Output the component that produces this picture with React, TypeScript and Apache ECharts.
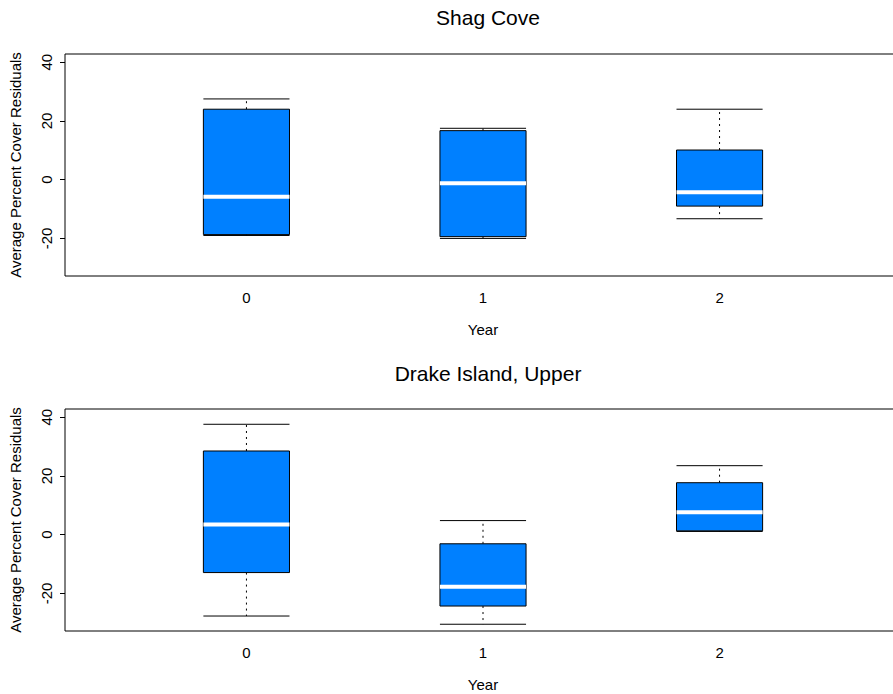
import React, { useEffect, useRef } from "react";
import * as echarts from "echarts";

const years = [0, 1, 2];
const yearLabels = ["0", "1", "2"];
const yTicks = [-20, 0, 20, 40];

const panelTitles = ["Shag Cove", "Drake Island, Upper"];

const shagLow = [-19.0, -20.0, -13.3];
const shagQ1 = [-18.7, -19.4, -9.0];
const shagMedian = [-5.8, -1.2, -4.3];
const shagQ3 = [24.0, 16.7, 10.1];
const shagHigh = [27.5, 17.5, 24.0];

const drakeLow = [-27.7, -30.5, 1.1];
const drakeQ1 = [-12.9, -24.3, 1.3];
const drakeMedian = [3.5, -17.7, 7.6];
const drakeQ3 = [28.5, -3.1, 17.7];
const drakeHigh = [37.6, 4.8, 23.5];

const FONT = "Liberation Sans, Arial, Helvetica, sans-serif";
const BOX_HALF = 0.182;

function buildRows(low: number[], q1: number[], med: number[], q3: number[], high: number[]) {
  return years.map((y, i) => [y, low[i], q1[i], med[i], q3[i], high[i]]);
}

function renderBox(params: any, api: any) {
  const x = api.value(0);
  const low = api.coord([x, api.value(1)]);
  const q1 = api.coord([x, api.value(2)]);
  const med = api.coord([x, api.value(3)]);
  const q3 = api.coord([x, api.value(4)]);
  const high = api.coord([x, api.value(5)]);
  const hw = api.size([BOX_HALF, 0])[0];
  const cx = low[0];
  const dash = { stroke: "#000", lineWidth: 1, lineDash: [2, 4] };
  const solid = { stroke: "#000", lineWidth: 1 };
  return {
    type: "group",
    children: [
      { type: "line", shape: { x1: cx, y1: q3[1], x2: cx, y2: high[1] }, style: dash },
      { type: "line", shape: { x1: cx, y1: q1[1], x2: cx, y2: low[1] }, style: dash },
      {
        type: "rect",
        shape: { x: cx - hw, y: q3[1], width: 2 * hw, height: q1[1] - q3[1] },
        style: { fill: "#0080FF", stroke: "#000", lineWidth: 1 },
      },
      { type: "line", shape: { x1: cx - hw, y1: med[1], x2: cx + hw, y2: med[1] }, style: { stroke: "#fff", lineWidth: 4 } },
      { type: "line", shape: { x1: cx - hw, y1: high[1], x2: cx + hw, y2: high[1] }, style: solid },
      { type: "line", shape: { x1: cx - hw, y1: low[1], x2: cx + hw, y2: low[1] }, style: solid },
    ],
  };
}

export default function App() {
  const ref = useRef<HTMLDivElement>(null);
  useEffect(() => {
    if (!ref.current) return;
    const chart = echarts.init(ref.current, null, { renderer: "svg" });
    const gridLeft = 65;
    const gridWidth = 836;
    const centerX = gridLeft + gridWidth / 2;
    const grids = [
      { left: gridLeft, top: 54, width: gridWidth, height: 222 },
      { left: gridLeft, top: 409, width: gridWidth, height: 222 },
    ];
    const xAxes = grids.map((_, i) => ({
      type: "value",
      gridIndex: i,
      min: -0.767,
      max: 2.767,
      name: "Year",
      nameLocation: "middle",
      nameGap: 46,
      nameTextStyle: { fontFamily: FONT, fontSize: 15, color: "#000" },
      axisLine: { show: false, onZero: false },
      axisTick: { show: false },
      splitLine: { show: false },
      axisLabel: {
        customValues: years,
        formatter: (v: number) => yearLabels[years.indexOf(Math.round(v))] ?? "",
        fontFamily: FONT,
        fontSize: 15,
        color: "#000",
        margin: 14,
      },
    }));
    const yAxes = grids.map((_, i) => ({
      type: "value",
      gridIndex: i,
      min: -32.8,
      max: 42.8,
      name: "Average Percent Cover Residuals",
      nameLocation: "middle",
      nameRotate: 90,
      nameGap: 42,
      nameTextStyle: { fontFamily: FONT, fontSize: 15, color: "#000" },
      axisLine: { show: false, onZero: false },
      splitLine: { show: false },
      axisTick: { show: true, customValues: yTicks, length: 5, lineStyle: { color: "#000" } },
      axisLabel: {
        customValues: yTicks,
        rotate: 90,
        fontFamily: FONT,
        fontSize: 15,
        color: "#000",
        margin: 11,
      },
    }));
    chart.setOption({
      animation: false,
      backgroundColor: "#fff",
      title: panelTitles.map((t, i) => ({
        text: t,
        left: centerX,
        textAlign: "center",
        top: i === 0 ? 2 : 358,
        textStyle: { fontFamily: FONT, fontSize: 21, fontWeight: "normal", color: "#000" },
      })),
      grid: grids.map((g) => ({
        ...g,
        show: true,
        borderColor: "#000",
        borderWidth: 1,
        backgroundColor: "transparent",
        outerBoundsMode: "none",
        containLabel: false,
      })),
      xAxis: xAxes,
      yAxis: yAxes,
      series: [
        {
          type: "custom",
          xAxisIndex: 0,
          yAxisIndex: 0,
          renderItem: renderBox,
          encode: { x: 0, y: [1, 2, 3, 4, 5] },
          data: buildRows(shagLow, shagQ1, shagMedian, shagQ3, shagHigh),
        },
        {
          type: "custom",
          xAxisIndex: 1,
          yAxisIndex: 1,
          renderItem: renderBox,
          encode: { x: 0, y: [1, 2, 3, 4, 5] },
          data: buildRows(drakeLow, drakeQ1, drakeMedian, drakeQ3, drakeHigh),
        },
      ],
    });
    return () => chart.dispose();
  }, []);
  return (
    <div
      ref={ref}
      style={{ position: "fixed", left: 0, top: 0, width: 893, height: 694, background: "#fff" }}
    />
  );
}
